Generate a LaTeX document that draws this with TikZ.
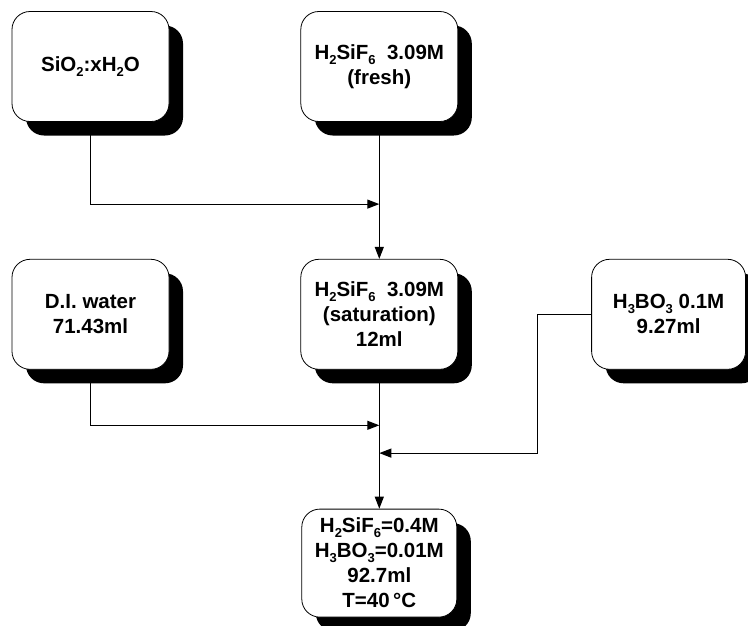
\documentclass[tikz,border=0pt]{standalone}
\usepackage{fontspec}
\setmainfont{Liberation Sans}
\usepackage{tikz}
\usetikzlibrary{arrows.meta, positioning, calc, shadows}
\newcommand\dn[1]{\raisebox{-0.45ex}{\fontsize{13}{13}\selectfont#1}}

\begin{document}
\begin{tikzpicture}[
  x=1pt, y=-1pt,
  every node/.style={font=\fontsize{20.5}{25}\selectfont\bfseries},
  b/.style={rectangle, rounded corners=18pt, draw=black, line width=0.8pt, fill=white,
             minimum width=157pt, minimum height=110pt, align=center,
             drop shadow={shadow xshift=14pt, shadow yshift=-14pt, opacity=1, fill=black}},
  arr/.style={-{Triangle[length=12pt,width=9pt]}, line width=1.1pt, draw=black},
]
\useasboundingbox (0,0) rectangle (748,625);
\node[b] at (90.5,66.5)        (si)  {SiO\dn{2}:xH\dn{2}O};
\node[b, right=131pt of si]    (fr)  {H\dn{2}SiF\dn{6}\ \ 3.09M\\(fresh)};
\node[b, below=137pt of si]    (di)  {D.I. water\\71.43ml};
\node[b, below=137pt of fr]    (sat) {H\dn{2}SiF\dn{6}\ \ 3.09M\\(saturation)\\12ml};
\node[b, right=133pt of sat, minimum width=154pt] (bo) {H\dn{3}BO\dn{3} 0.1M\\9.27ml};
\node[b, below=139pt of sat, minimum width=155pt, minimum height=108pt] (mix)
  {H\dn{2}SiF\dn{6}=0.4M\\H\dn{3}BO\dn{3}=0.01M\\92.7ml\\T=40\,°C};
\coordinate (j1) at ($(fr.south)!0.6!(sat.north)$);
\coordinate (j2) at ($(sat.south)!0.4!(mix.north)$);
\coordinate (j3) at ($(sat.south)!0.6!(mix.north)$);
\coordinate (k)  at ($(j3 -| bo.west)+(-54,0)$);
\draw[arr] (si) |- (j1);
\draw[arr] (fr) -- (sat);
\draw[arr] (di) |- (j2);
\draw[arr] (bo.west) -| (k) -- (j3);
\draw[arr] (sat) -- (mix);
\end{tikzpicture}
\end{document}
